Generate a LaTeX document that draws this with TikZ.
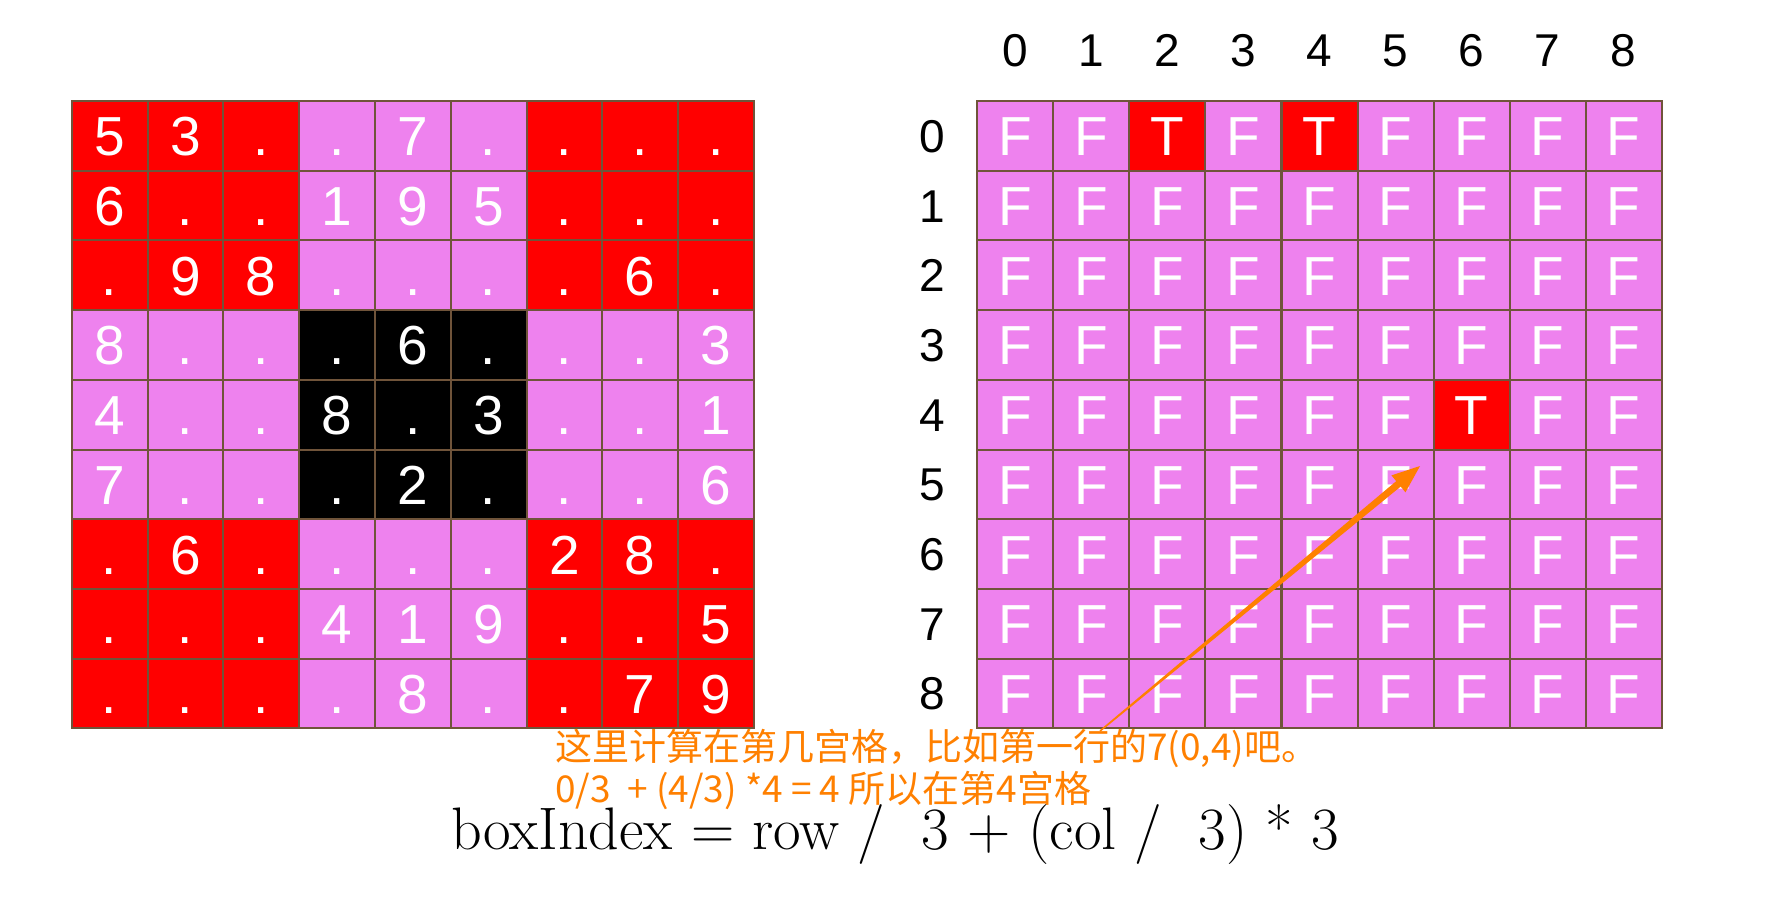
\documentclass[tikz,border=0pt]{standalone}
\usepackage{fontspec}
\setmainfont{Liberation Sans}
\newfontfamily\cjkfont{Noto Sans CJK SC}
\newfontfamily\lmr{Latin Modern Roman}
\usetikzlibrary{calc}
\definecolor{cred}{RGB}{255,0,0}
\definecolor{cviol}{RGB}{238,130,238}
\definecolor{cgrid}{RGB}{112,84,58}
\definecolor{corange}{RGB}{255,128,0}
\tikzset{
  cellbox/.style={rectangle, inner sep=0pt, draw=cgrid, line width=2pt,
    minimum width=75.8pt, minimum height=69.7pt, text=white,
    font=\fontsize{55}{60}\selectfont, text height=40pt, text depth=0pt},
  rcellbox/.style={cellbox, minimum width=76pt},
  axislab/.style={inner sep=0pt, font=\fontsize{46}{50}\selectfont, text=black,
    text height=33pt, text depth=0pt},
  notetext/.style={inner sep=0pt, anchor=base west, text=corange,
    font=\cjkfont\fontsize{37}{42}\selectfont, text height=32pt, text depth=4pt},
  formula/.style={inner sep=0pt, anchor=base west, text=black,
    font=\lmr\fontsize{60}{64}\selectfont, text height=42pt, text depth=15pt}
}
\begin{document}
\begin{tikzpicture}[x=1pt,y=-1pt]
\useasboundingbox[fill=white] (0,0) rectangle (1776,904);
% left sudoku grid
\foreach \rowlist [count=\r from 0] in {
  {5,3,.,.,7,.,.,.,.},
  {6,.,.,1,9,5,.,.,.},
  {.,9,8,.,.,.,.,6,.},
  {8,.,.,.,6,.,.,.,3},
  {4,.,.,8,.,3,.,.,1},
  {7,.,.,.,2,.,.,.,6},
  {.,6,.,.,.,.,2,8,.},
  {.,.,.,4,1,9,.,.,5},
  {.,.,.,.,8,.,.,7,9}} {
  \foreach \v [count=\c from 0] in \rowlist {
    \pgfmathtruncatemacro\br{\r/3}
    \pgfmathtruncatemacro\bc{\c/3}
    \pgfmathtruncatemacro\kind{(\br==1 && \bc==1) ? 2 : mod(\br+\bc,2)}
    \ifnum\kind=0 \def\cc{cred}\else\ifnum\kind=1 \def\cc{cviol}\else\def\cc{black}\fi\fi
    \node[cellbox, fill=\cc] (L-\r-\c) at ({71.7+75.8*(\c+0.5)}, {101+69.7*(\r+0.5)}) {\v};
  }
}
% right boolean grid
\foreach \r in {0,...,8} {
  \foreach \c in {0,...,8} {
    \pgfmathtruncatemacro\isT{((\r==0 && (\c==2 || \c==4)) || (\r==4 && \c==6)) ? 1 : 0}
    \ifnum\isT=1 \def\cc{cred}\def\tv{T}\else\def\cc{cviol}\def\tv{F}\fi
    \node[rcellbox, fill=\cc] (R-\r-\c) at ({977.3+76.04*(\c+0.5)}, {101+69.7*(\r+0.5)}) {\tv};
  }
}
% axis labels
\foreach \c in {0,...,8} {
  \node[axislab] (col-\c) at ({977.3+76.04*(\c+0.5)}, 50) {\c};
}
\foreach \r in {0,...,8} {
  \node[axislab] (row-\r) at (932, {101+69.7*(\r+0.5)}) {\r};
}
% note texts
\node[notetext] (note1) at (555, 760) {这里计算在第几宫格，比如第一行的7(0,4)吧。};
\node[notetext] (note2) at (555, 802) {0/3 \ + (4/3) *4 = 4 所以在第4宫格};
\node[formula] (formula) at (451, 849) {boxIndex = row / \ 3 + (col / \ 3) * 3};
% orange tapered arrow
\coordinate (arrS) at (1100, 731);
\coordinate (arrE) at (1420, 466);
\coordinate (arrB) at ($(arrE)!28pt!(arrS)$);
\fill[corange] ($(arrS)!0.8pt!90:(arrE)$) -- ($(arrB)!3.5pt!90:(arrE)$) -- ($(arrB)!11pt!90:(arrE)$) -- (arrE)
  -- ($(arrB)!11pt!-90:(arrE)$) -- ($(arrB)!3.5pt!-90:(arrE)$) -- ($(arrS)!0.8pt!-90:(arrE)$) -- cycle;
\end{tikzpicture}
\end{document}
